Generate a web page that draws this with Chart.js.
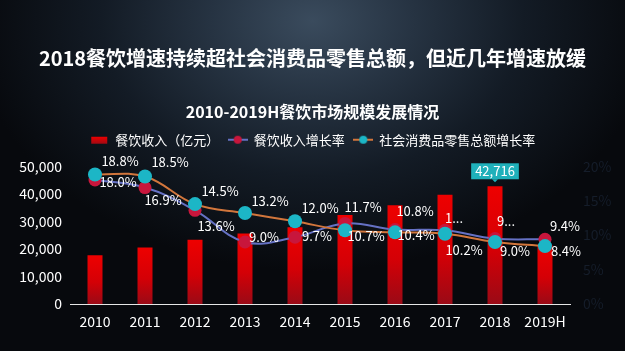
<!DOCTYPE html>
<html>
<head>
<meta charset="utf-8">
<script src="https://cdn.jsdelivr.net/npm/chart.js@4.4.1/dist/chart.umd.min.js"></script>
<style>
html, body { margin: 0; padding: 0; width: 625px; height: 351px; overflow: hidden; background: #05070a; }
body { background: radial-gradient(ellipse 340px 250px at 50% 6%, #3a4b5d 0%, #263342 30%, #131b25 62%, #07090d 100%); }
canvas { display: block; }
</style>
</head>
<body>
<canvas id="c" width="625" height="351"></canvas>
<script>
// ---- data ----
const categories = ['2010', '2011', '2012', '2013', '2014', '2015', '2016', '2017', '2018', '2019H'];
const revenue = [17648, 20543, 23283, 25569, 27860, 32310, 35799, 39644, 42716, 21318];      // 餐饮收入（亿元）
const revenueGrowth = [18.0, 16.9, 13.6, 9.0, 9.7, 11.7, 10.8, 10.7, 9.5, 9.4];               // 餐饮收入增长率 %
const retailGrowth = [18.8, 18.5, 14.5, 13.2, 12.0, 10.7, 10.4, 10.2, 9.0, 8.4];              // 社会消费品零售总额增长率 %
const leftTickValues = [0, 10000, 20000, 30000, 40000, 50000];
const rightTickValues = [0, 5, 10, 15, 20];
const seriesNames = ['餐饮收入（亿元）', '餐饮收入增长率', '社会消费品零售总额增长率'];
const titleText = '2018餐饮增速持续超社会消费品零售总额，但近几年增速放缓';
const subtitleText = '2010-2019H餐饮市场规模发展情况';
const truncatedRevenueLabels = [7, 8];   // labels shown cut off in the original

// ---- label placement (pixel offsets from each point) ----
const revenueLabelOffsets = [[23, 2], [18, 13], [21, 16], [19, -5], [22, -1], [18, -16], [20, -19], [9, -12], [11, -17], [20, -13]];
const retailLabelOffsets = [[25, -13], [25, -14], [25, -13], [25, -12], [25, -13], [21, 6], [21, 3], [19, 16], [20, 9], [21, 5]];

const FONT = "'Noto Sans CJK SC', 'Noto Sans', sans-serif";
const RED_DOT = '#c8163c';
const BLUE_LINE = '#6571c4';
const CYAN_DOT = '#1cb6c6';
const ORANGE_LINE = '#d2763c';

function makeIcon(kind) {
  const c = document.createElement('canvas');
  c.width = 20; c.height = 10;
  const g = c.getContext('2d');
  if (kind === 'bar') {
    const gr = g.createLinearGradient(0, 2, 0, 9);
    gr.addColorStop(0, '#ee0000'); gr.addColorStop(1, '#a00a14');
    g.fillStyle = gr; g.fillRect(2, 2, 16, 7);
  } else {
    g.strokeStyle = kind === 'red' ? BLUE_LINE : ORANGE_LINE;
    g.lineWidth = 2;
    g.beginPath(); g.moveTo(0, 5); g.lineTo(20, 5); g.stroke();
    g.fillStyle = kind === 'red' ? RED_DOT : CYAN_DOT;
    g.beginPath(); g.arc(10, 5, 4, 0, Math.PI * 2); g.fill();
  }
  return c;
}
const icons = [makeIcon('bar'), makeIcon('red'), makeIcon('cyan')];

function barGradient(ctx) {
  const chart = ctx.chart;
  const y = chart.scales && chart.scales.y;
  if (!chart.chartArea || !y || ctx.dataIndex === undefined) return '#d00000';
  const v = ctx.dataset.data[ctx.dataIndex];
  const top = y.getPixelForValue(v);
  const bottom = y.getPixelForValue(0);
  if (!isFinite(top) || !isFinite(bottom) || top === bottom) return '#d00000';
  const g = chart.ctx.createLinearGradient(0, top, 0, bottom);
  g.addColorStop(0, '#ee0000');
  g.addColorStop(0.55, '#d40006');
  g.addColorStop(1, '#9a0a16');
  return g;
}

const spacerPlugin = {
  id: 'legendSpacer',
  beforeInit(chart) {
    Chart.layouts.addBox(chart, {
      position: 'top', weight: 100, fullSize: true, options: {},
      top: 0, left: 0, right: 0, bottom: 0, width: 0, height: 0,
      update(maxWidth) { this.width = maxWidth; this.height = 10; },
      getPadding() { return { top: 0, left: 0, right: 0, bottom: 0 }; },
      isHorizontal() { return true; },
      draw() {}
    });
  }
};

const labelPlugin = {
  id: 'pointLabels',
  afterDatasetsDraw(chart) {
    const ctx = chart.ctx;
    ctx.save();
    ctx.font = '13px ' + FONT;
    ctx.textAlign = 'center';
    ctx.textBaseline = 'middle';
    ctx.fillStyle = '#ffffff';
    const draw = (dsIndex, values, offsets, truncated) => {
      const meta = chart.getDatasetMeta(dsIndex);
      meta.data.forEach((pt, i) => {
        let txt = values[i].toFixed(1) + '%';
        if (truncated && truncated.includes(i)) txt = txt.charAt(0) + '...';
        ctx.fillText(txt, pt.x + offsets[i][0], pt.y + offsets[i][1]);
      });
    };
    draw(1, revenueGrowth, revenueLabelOffsets, truncatedRevenueLabels);
    draw(2, retailGrowth, retailLabelOffsets, null);

    // callout on the largest bar
    const maxIdx = revenue.indexOf(Math.max(...revenue));
    const bar = chart.getDatasetMeta(0).data[maxIdx];
    const txt = revenue[maxIdx].toLocaleString('en-US');
    const w = ctx.measureText(txt).width + 8;
    const cy = bar.y - 15;
    ctx.fillStyle = '#1fb0ba';
    ctx.fillRect(bar.x - w / 2, cy - 8, w, 16);
    ctx.beginPath();
    ctx.moveTo(bar.x - 3, cy + 8); ctx.lineTo(bar.x + 3, cy + 8); ctx.lineTo(bar.x, cy + 11); ctx.closePath();
    ctx.fill();
    ctx.fillStyle = '#ffffff';
    ctx.fillText(txt, bar.x, cy);
    ctx.restore();
  }
};

new Chart(document.getElementById('c'), {
  type: 'bar',
  data: {
    labels: categories,
    datasets: [
      { type: 'bar', label: seriesNames[0], data: revenue, yAxisID: 'y', order: 3,
        backgroundColor: barGradient, borderWidth: 0, barPercentage: 0.3, categoryPercentage: 1 },
      { type: 'line', label: seriesNames[1], data: revenueGrowth, yAxisID: 'yR', order: 2,
        borderColor: BLUE_LINE, borderWidth: 2, tension: 0.4, pointRadius: 6.5,
        pointBackgroundColor: RED_DOT, pointBorderWidth: 0, fill: false },
      { type: 'line', label: seriesNames[2], data: retailGrowth, yAxisID: 'yR', order: 1,
        borderColor: ORANGE_LINE, borderWidth: 2, tension: 0.4, pointRadius: 7,
        pointBackgroundColor: CYAN_DOT, pointBorderWidth: 0, fill: false }
    ]
  },
  options: {
    responsive: false,
    animation: false,
    devicePixelRatio: 1,
    layout: { padding: 0 },
    plugins: {
      title: { display: true, text: titleText, color: '#ffffff',
        font: { family: FONT, size: 20, weight: 'bold' }, padding: { top: 46, bottom: 0 } },
      subtitle: { display: true, text: subtitleText, color: '#ffffff',
        font: { family: FONT, size: 16, weight: 'bold' }, padding: { top: 32, bottom: 3 } },
      legend: {
        display: true, position: 'top',
        labels: {
          color: '#ffffff', font: { family: FONT, size: 13 }, padding: 9,
          usePointStyle: true, pointStyleWidth: 19,
          generateLabels: (chart) => chart.data.datasets.map((ds, i) => ({
            text: ds.label, pointStyle: icons[i], fontColor: '#ffffff', hidden: false,
            datasetIndex: i, lineWidth: 0, strokeStyle: 'rgba(0,0,0,0)', fillStyle: 'rgba(0,0,0,0)'
          }))
        }
      },
      tooltip: { enabled: false }
    },
    scales: {
      x: {
        grid: { display: false, drawTicks: false },
        border: { display: true, color: '#e6e6e6', width: 1 },
        ticks: { color: '#ffffff', font: { family: FONT, size: 14 }, padding: 9 },
        afterFit: (s) => { s.height = 47; }
      },
      y: {
        position: 'left', min: 0, max: 50000,
        grid: { display: false, drawTicks: false },
        border: { display: false },
        afterBuildTicks: (s) => { s.ticks = leftTickValues.map(v => ({ value: v })); },
        ticks: { color: '#ffffff', font: { family: FONT, size: 14 }, padding: 8,
          callback: (v) => v.toLocaleString('en-US') },
        afterFit: (s) => { s.width = 70; }
      },
      yR: {
        position: 'right', min: 0, max: 20,
        grid: { display: false, drawTicks: false },
        border: { display: false },
        afterBuildTicks: (s) => { s.ticks = rightTickValues.map(v => ({ value: v })); },
        ticks: { color: '#151d2a', font: { family: FONT, size: 14 }, padding: 13,
          callback: (v) => v + '%' },
        afterFit: (s) => { s.width = 55; }
      }
    }
  },
  plugins: [spacerPlugin, labelPlugin]
});
</script>
</body>
</html>
